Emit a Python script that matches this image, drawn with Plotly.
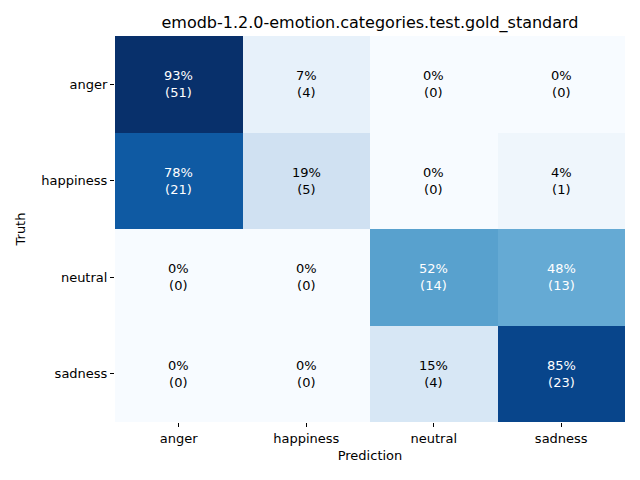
import plotly.graph_objects as go

labels = ["anger", "happiness", "neutral", "sadness"]
counts = [
    [51, 4, 0, 0],
    [21, 5, 0, 1],
    [0, 0, 14, 13],
    [0, 0, 4, 23],
]

pcts = []
for row in counts:
    s = sum(row)
    pcts.append([100.0 * c / s for c in row])

zmax = max(max(r) for r in pcts)

fig = go.Figure(go.Heatmap(
    z=pcts, x=labels, y=labels, colorscale="Blues", zmin=0, zmax=zmax,
    showscale=False, hoverinfo="skip", xgap=0, ygap=0,
))

annotations = []
for i, row in enumerate(counts):
    for j, c in enumerate(row):
        p = pcts[i][j]
        color = "white" if p / zmax > 0.5 else "black"
        annotations.append(dict(
            x=labels[j], y=labels[i], xref="x", yref="y",
            text=f"{p:.0f}%<br>({c})", showarrow=False,
            font=dict(family="DejaVu Sans", size=13, color=color),
        ))

fig.update_layout(
    width=640, height=480,
    margin=dict(l=115, r=15, t=36, b=58),
    paper_bgcolor="white", plot_bgcolor="white",
    font=dict(family="DejaVu Sans", size=13, color="black"),
    title=dict(text="emodb-1.2.0-emotion.categories.test.gold_standard",
               x=0.5, xref="paper", y=1 - 22 / 480, yanchor="middle",
               font=dict(size=16, color="black")),
    annotations=annotations,
    xaxis=dict(title=dict(text="Prediction", font=dict(size=13), standoff=6),
               ticks="outside", ticklen=4, tickcolor="black", showgrid=False,
               zeroline=False, showline=False),
    yaxis=dict(title=dict(text="Truth", font=dict(size=13), standoff=12),
               autorange="reversed", ticks="outside", ticklen=4,
               tickcolor="black", showgrid=False, zeroline=False,
               showline=False),
)

fig.write_html("out.html")
